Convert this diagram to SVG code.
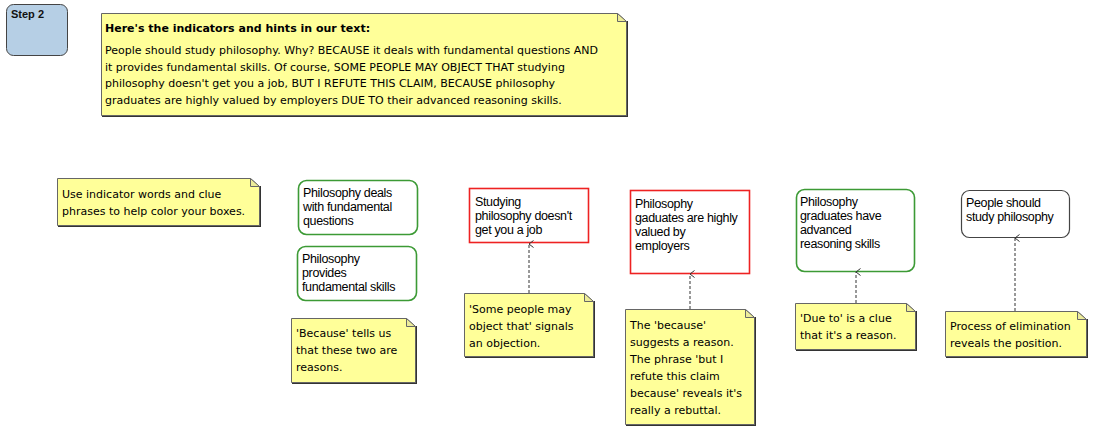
<svg xmlns="http://www.w3.org/2000/svg" width="1095" height="430" viewBox="0 0 1095 430">
<style>
.note{fill:#ffff99;stroke:#666;stroke-width:1}
.shadow{fill:none;stroke:#333;stroke-width:2}
.fold{fill:#ecec9a;stroke:#666;stroke-width:1}
.nt{font-family:"Comic Sans MS","DejaVu Sans",sans-serif;font-size:11px;fill:#000}
.bt{font-family:"Liberation Sans",Arial,sans-serif;font-size:12.5px;fill:#000;letter-spacing:-0.35px}
.green{fill:#fff;stroke:#3c9a35;stroke-width:1.6}
.red{fill:#fff;stroke:#ee2222;stroke-width:1.6}
.black{fill:#fff;stroke:#444;stroke-width:1.2}
.conn{stroke:#333;stroke-width:1;stroke-dasharray:3,2;fill:none}
</style>
<defs>
<marker id="arr" markerWidth="9" markerHeight="9" refX="4.5" refY="1" orient="auto-start-reverse" markerUnits="userSpaceOnUse" viewBox="0 0 9 9">
<path d="M1,5.5 L4.5,1 L8,5.5" fill="none" stroke="#333" stroke-width="1"/>
</marker>
</defs>
<rect width="1095" height="430" fill="#fff"/>

<g id="step2">
<rect x="6.5" y="4.5" width="61" height="51" rx="7" fill="#b6cfe5" stroke="#444" stroke-width="1"/>
<text x="11" y="18" font-family="Liberation Sans,Arial,sans-serif" font-size="11" font-weight="bold" fill="#111">Step 2</text>
</g>

<g id="note-main">
<path class="shadow" d="M627,21 V116 H102"/>
<path class="note" d="M101.5,13.5 H617.5 L626.5,21.5 V115.5 H101.5 Z"/>
<path class="fold" d="M617.5,13.5 V21.5 H626.5 Z"/>
<text class="nt" x="105" y="32" font-weight="bold">Here's the indicators and hints in our text:</text>
<text class="nt" x="105" y="54">People should study philosophy. Why? BECAUSE it deals with fundamental questions AND</text>
<text class="nt" x="105" y="71">it provides fundamental skills. Of course, SOME PEOPLE MAY OBJECT THAT studying</text>
<text class="nt" x="105" y="87">philosophy doesn't get you a job, BUT I REFUTE THIS CLAIM, BECAUSE philosophy</text>
<text class="nt" x="105" y="104">graduates are highly valued by employers DUE TO their advanced reasoning skills.</text>
</g>

<g id="note-indicator">
<path class="shadow" d="M260,186 V226 H58"/>
<path class="note" d="M57.5,178.5 H250.5 L259.5,186.5 V225.5 H57.5 Z"/>
<path class="fold" d="M250.5,178.5 V186.5 H259.5 Z"/>
<text class="nt" x="62" y="198">Use indicator words and clue</text>
<text class="nt" x="62" y="215">phrases to help color your boxes.</text>
</g>

<g id="box-questions">
<rect class="green" x="298.5" y="180.5" width="119" height="54" rx="8"/>
<text class="bt" x="303" y="197">Philosophy deals</text>
<text class="bt" x="303" y="211">with fundamental</text>
<text class="bt" x="303" y="225">questions</text>
</g>

<g id="box-skills">
<rect class="green" x="297.5" y="246.5" width="119" height="54" rx="8"/>
<text class="bt" x="302" y="263">Philosophy</text>
<text class="bt" x="302" y="277">provides</text>
<text class="bt" x="302" y="291">fundamental skills</text>
</g>

<g id="note-because">
<path class="shadow" d="M416,326 V383 H292"/>
<path class="note" d="M291.5,318.5 H406.5 L415.5,326.5 V382.5 H291.5 Z"/>
<path class="fold" d="M406.5,318.5 V326.5 H415.5 Z"/>
<text class="nt" x="296" y="337">'Because' tells us</text>
<text class="nt" x="296" y="354">that these two are</text>
<text class="nt" x="296" y="371">reasons.</text>
</g>

<g id="box-job">
<rect class="red" x="469.5" y="188.5" width="119" height="54"/>
<text class="bt" x="475" y="206">Studying</text>
<text class="bt" x="475" y="220">philosophy doesn't</text>
<text class="bt" x="475" y="234">get you a job</text>
</g>

<g id="note-object">
<path class="shadow" d="M594,301 V357 H465"/>
<path class="note" d="M464.5,293.5 H584.5 L593.5,301.5 V356.5 H464.5 Z"/>
<path class="fold" d="M584.5,293.5 V301.5 H593.5 Z"/>
<text class="nt" x="469" y="313">'Some people may</text>
<text class="nt" x="469" y="330">object that' signals</text>
<text class="nt" x="469" y="347">an objection.</text>
</g>

<g id="box-employers">
<rect class="red" x="630.5" y="190.5" width="119" height="83"/>
<text class="bt" x="635" y="208">Philosophy</text>
<text class="bt" x="635" y="222">gaduates are highly</text>
<text class="bt" x="635" y="236">valued by</text>
<text class="bt" x="635" y="250">employers</text>
</g>

<g id="note-rebuttal">
<path class="shadow" d="M755,317 V425 H626"/>
<path class="note" d="M625.5,309.5 H745.5 L754.5,317.5 V424.5 H625.5 Z"/>
<path class="fold" d="M745.5,309.5 V317.5 H754.5 Z"/>
<text class="nt" x="630" y="329">The 'because'</text>
<text class="nt" x="630" y="346">suggests a reason.</text>
<text class="nt" x="630" y="363">The phrase 'but I</text>
<text class="nt" x="630" y="380">refute this claim</text>
<text class="nt" x="630" y="397">because' reveals it's</text>
<text class="nt" x="630" y="414">really a rebuttal.</text>
</g>

<g id="box-reasoning">
<rect class="green" x="796.5" y="189.5" width="118" height="82" rx="8"/>
<text class="bt" x="800" y="206">Philosophy</text>
<text class="bt" x="800" y="220">graduates have</text>
<text class="bt" x="800" y="234">advanced</text>
<text class="bt" x="800" y="248">reasoning skills</text>
</g>

<g id="note-dueto">
<path class="shadow" d="M916,311 V350 H796"/>
<path class="note" d="M795.5,303.5 H906.5 L915.5,311.5 V349.5 H795.5 Z"/>
<path class="fold" d="M906.5,303.5 V311.5 H915.5 Z"/>
<text class="nt" x="800" y="322">'Due to' is a clue</text>
<text class="nt" x="800" y="339">that it's a reason.</text>
</g>

<g id="box-position">
<rect class="black" x="961.5" y="190.5" width="108" height="47" rx="8"/>
<text class="bt" x="966" y="207">People should</text>
<text class="bt" x="966" y="221">study philosophy</text>
</g>

<g id="note-elimination">
<path class="shadow" d="M1087,319 V357 H946"/>
<path class="note" d="M945.5,311.5 H1077.5 L1086.5,319.5 V356.5 H945.5 Z"/>
<path class="fold" d="M1077.5,311.5 V319.5 H1086.5 Z"/>
<text class="nt" x="950" y="330">Process of elimination</text>
<text class="nt" x="950" y="347">reveals the position.</text>
</g>

<g id="connectors">
<line class="conn" x1="529" y1="293" x2="529" y2="244" marker-end="url(#arr)"/>
<line class="conn" x1="690" y1="309" x2="690" y2="274" marker-end="url(#arr)"/>
<line class="conn" x1="856" y1="303" x2="856" y2="272" marker-end="url(#arr)"/>
<line class="conn" x1="1015" y1="311" x2="1015" y2="238" marker-end="url(#arr)"/>
</g>
</svg>
